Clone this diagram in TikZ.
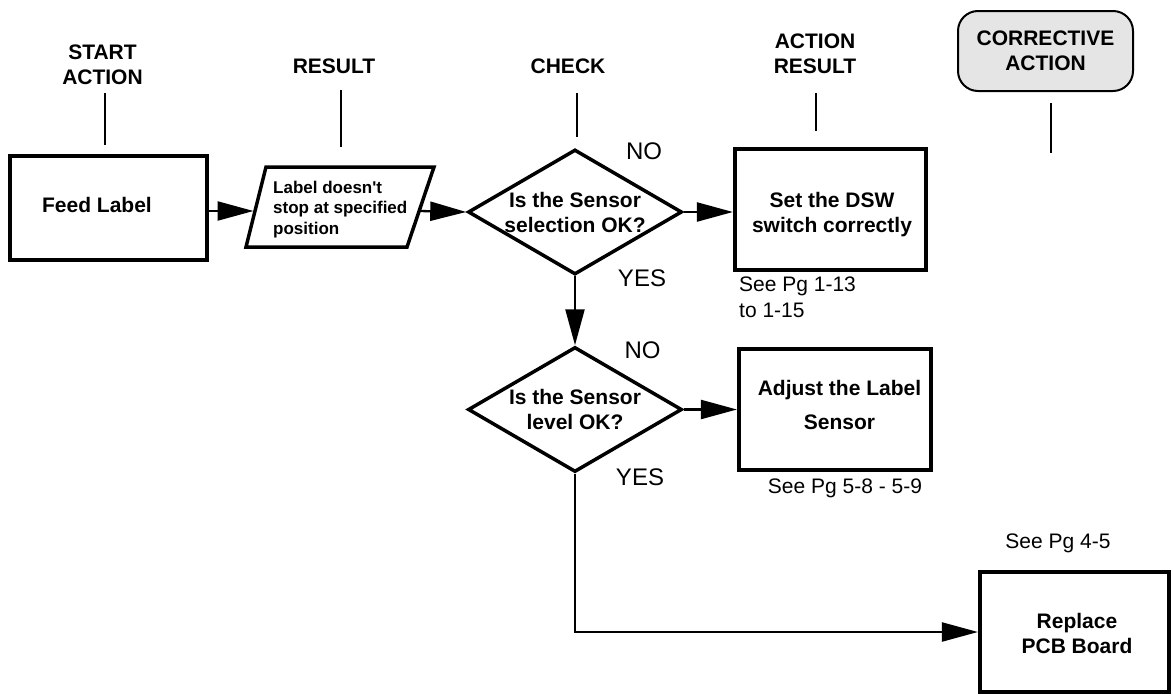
\documentclass[tikz,border=0pt]{standalone}
\usepackage{fontspec}
\setmainfont{Liberation Sans}
\usetikzlibrary{arrows.meta,shapes.geometric,calc}
\begin{document}
\begin{tikzpicture}[x=1pt,y=-1pt,
  procbox/.style={draw, line width=4.2pt, inner sep=0pt},
  decbox/.style={draw, shape=diamond, line width=3.5pt, inner sep=0pt, aspect=1.7,
    font=\bfseries\fontsize{21}{25}\selectfont, align=center},
  bt/.style={font=\bfseries\fontsize{21}{25}\selectfont, align=center, inner sep=0pt},
  hdr/.style={font=\bfseries\fontsize{21}{25}\selectfont, align=center, inner sep=0pt},
  note/.style={font=\fontsize{21}{26}\selectfont, inner sep=0pt, align=left},
  yn/.style={font=\fontsize{24}{28}\selectfont, inner sep=0pt, anchor=base},
  tick/.style={line width=2pt},
  flow/.style={line width=2.3pt, -{Triangle[length=36pt,width=19pt]}},
]
\useasboundingbox (0,0) rectangle (1173,696);

% column headers
\node[hdr] (hStart) at (102.5,64.5) {START\\ACTION};
\node[hdr, anchor=base] (hRes) at (334,73) {RESULT};
\node[hdr, anchor=base] (hChk) at (568,73) {CHECK};
\node[hdr] (hAR) at (815,53.5) {ACTION\\RESULT};
\node[draw, line width=2pt, fill=black!10, rounded corners=20pt, minimum width=175pt,
  minimum height=80pt, inner sep=0pt, hdr] (hCA) at (1045.5,51) {CORRECTIVE\\ACTION};

% header ticks
\coordinate (k1a) at (105,93);  \coordinate (k1b) at (105,145);
\coordinate (k2a) at (341,90);  \coordinate (k2b) at (341,147);
\coordinate (k3a) at (577,93);  \coordinate (k3b) at (577,137);
\coordinate (k4a) at (816,93);  \coordinate (k4b) at (816,131);
\coordinate (k5a) at (1051,103); \coordinate (k5b) at (1051,153);
\draw[tick] (k1a) -- (k1b);
\draw[tick] (k2a) -- (k2b);
\draw[tick] (k3a) -- (k3b);
\draw[tick] (k4a) -- (k4b);
\draw[tick] (k5a) -- (k5b);

% Feed Label
\node[procbox, minimum width=197pt, minimum height=104pt] (feed) at (108.5,208) {};
\node[bt] (feedT) at (97,205) {Feed Label};

% parallelogram (result)
\coordinate (pA) at (266,167);
\coordinate (pB) at (434,167);
\coordinate (pC) at (407,247);
\coordinate (pD) at (246,247);
\draw[line width=3.5pt, line join=miter] (pA) -- (pB) -- (pC) -- (pD) -- cycle;
\node[font=\bfseries\fontsize{17}{20.5}\selectfont, align=left, inner sep=0pt, anchor=west]
  (resT) at (273,209.5) {Label doesn\textquotesingle t\\stop at specified\\position};
\coordinate (pL) at (253.5,211);
\coordinate (pR) at (419,211);

% decisions
\node[decbox, minimum width=214pt, minimum height=125pt] (d1) at (575,212) {Is the Sensor\\selection OK?};
\node[decbox, minimum width=214pt, minimum height=125pt] (d2) at (575,409.5) {Is the Sensor\\level OK?};

% action boxes
\node[procbox, minimum width=191pt, minimum height=121pt] (b2) at (830.5,209.5) {};
\node[bt] (b2t) at (832,214.5) {Set the DSW\\switch correctly};
\node[procbox, minimum width=192pt, minimum height=121pt] (b3) at (835,409.5) {};
\node[font=\bfseries\fontsize{21}{34}\selectfont, align=center, inner sep=0pt] (b3t) at (839.5,404.5) {Adjust the Label\\Sensor};
\node[procbox, minimum width=189pt, minimum height=120pt] (b4) at (1074.5,632) {};
\node[bt] (b4t) at (1077,633) {Replace\\PCB Board};

% notes
\node[note, anchor=west] (n1) at (739,297.5) {See Pg 1-13\\to 1-15};
\node[note, anchor=base] (n2) at (845,493) {See Pg 5-8 - 5-9};
\node[note, anchor=base] (n3) at (1058,548) {See Pg 4-5};

% yes / no
\node[yn] (no1) at (644,159) {NO};
\node[yn] (yes1) at (642,286) {YES};
\node[yn] (no2) at (642.5,358) {NO};
\node[yn] (yes2) at (640,485) {YES};

% connectors
\draw[flow] (feed.east |- pL) -- (pL);
\draw[flow] (pR) -- (d1.west);
\draw[flow] (d1.east) -- (d1.east -| b2.west);
\draw[flow] (d1.south) -- (d2.north);
\draw[flow] (d2.east) -- (d2.east -| b3.west);
\draw[flow] (d2.south) |- (b4.west);
\end{tikzpicture}
\end{document}
